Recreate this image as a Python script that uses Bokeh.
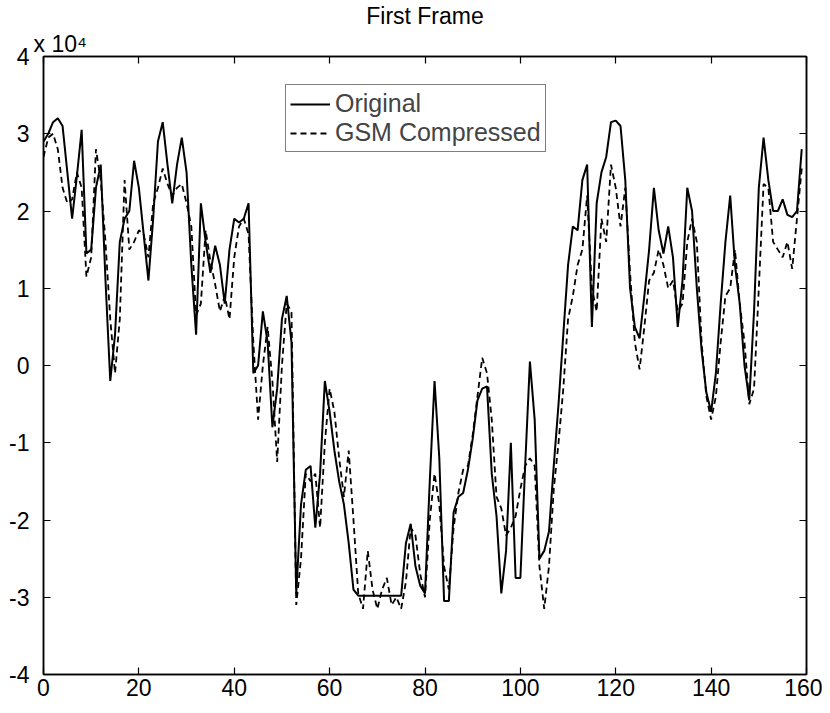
from bokeh.plotting import figure
from bokeh.models import (FixedTicker, LinearAxis, Legend, LegendItem, Range1d,
                          Title, CustomLabelingPolicy)
from bokeh.embed import file_html
from bokeh.resources import INLINE

# ---- data (values in units of 10^4) ----
sample = list(range(160))
original = [
    2.9, 3.0, 3.15, 3.2, 3.1, 2.5, 1.9, 2.45, 3.05, 1.45,
    1.5, 2.3, 2.6, 1.1, -0.2, 0.4, 1.6, 1.9, 2.0, 2.65,
    2.3, 1.7, 1.1, 1.9, 2.9, 3.15, 2.6, 2.1, 2.6, 2.95,
    2.5, 1.3, 0.4, 2.1, 1.6, 1.2, 1.55, 1.3, 0.8, 1.5,
    1.9, 1.85, 1.9, 2.1, -0.1, 0.0, 0.7, 0.3, -0.8, -0.3,
    0.6, 0.9, 0.3, -2.95, -1.8, -1.35, -1.3, -2.1, -1.4, -0.2,
    -0.6, -1.1, -1.5, -1.8, -2.3, -2.9, -2.98, -2.98, -2.98, -2.98,
    -2.98, -2.98, -2.98, -2.98, -2.98, -2.98, -2.3, -2.05, -2.6, -2.85,
    -2.95, -1.5, -0.2, -1.2, -3.05, -3.05, -1.9, -1.7, -1.65, -1.35,
    -0.95, -0.45, -0.3, -0.27, -1.4, -1.95, -2.95, -2.4, -1.0, -2.75,
    -2.75, -1.3, 0.05, -0.7, -2.5, -2.4, -2.15, -1.3, -0.5, 0.4,
    1.3, 1.8, 1.75, 2.4, 2.6, 0.5, 2.1, 2.5, 2.7, 3.15,
    3.17, 3.1, 2.4, 1.0, 0.5, 0.35, 0.9, 1.5, 2.3, 1.75,
    1.45, 1.8, 1.4, 0.5, 1.1, 2.3, 2.0, 1.0, 0.2, -0.35,
    -0.6, -0.1, 0.8, 1.6, 2.2, 1.3, 0.8, 0.0, -0.45, 0.7,
    2.3, 2.95, 2.4, 2.0, 2.0, 2.15, 1.95, 1.92, 2.0, 2.8,
]
gsm_compressed = [
    2.7, 2.95, 3.0, 2.8, 2.3, 2.1, 2.15, 2.5, 2.3, 1.15,
    1.4, 2.8, 2.4, 1.6, 0.6, -0.1, 0.6, 2.4, 1.5, 1.6,
    1.75, 1.7, 1.4, 2.1, 2.3, 2.55, 2.35, 2.2, 2.3, 2.35,
    2.1, 1.8, 0.65, 0.8, 1.75, 1.35, 1.05, 0.7, 0.9, 0.6,
    1.4, 1.8, 1.9, 1.7, 0.3, -0.7, 0.0, 0.5, -0.2, -1.25,
    0.0, 0.8, 0.7, -3.1, -2.5, -1.4, -1.5, -1.4, -2.1, -1.0,
    -0.3, -0.6, -1.2, -1.7, -1.1, -2.0, -2.95, -3.15, -2.4, -2.9,
    -3.15, -2.9, -2.75, -3.1, -3.0, -3.15, -2.8, -2.1, -2.2, -2.7,
    -3.0, -2.0, -1.4, -1.8, -2.6, -2.9, -2.1, -1.65, -1.35, -1.3,
    -0.9, -0.4, 0.1, -0.1, -0.7, -1.7, -1.85, -2.2, -2.1, -1.95,
    -1.6, -1.3, -1.2, -1.3, -2.6, -3.15, -2.6, -1.6, -1.0, -0.3,
    0.6, 0.9, 1.3, 1.5, 2.2, 1.0, 0.7, 1.9, 1.6, 2.6,
    2.3, 1.8, 2.3, 1.2, 0.3, -0.05, 0.5, 1.1, 1.2, 1.5,
    1.3, 1.0, 1.1, 0.7, 0.8, 1.6, 1.9, 1.6, 0.3, -0.4,
    -0.7, -0.4, 0.3, 0.9, 1.0, 1.5, 0.8, 0.3, -0.5, -0.3,
    1.0, 2.35, 2.3, 1.6, 1.5, 1.4, 1.6, 1.25, 1.9, 2.55,
]
x_ticks = [0, 20, 40, 60, 80, 100, 120, 140, 160]
y_ticks = [-4, -3, -2, -1, 0, 1, 2, 3, 4]
title_text = "First Frame"
legend_labels = ["Original", "GSM Compressed"]
multiplier_text = "x 10\u2074"

FONT = "Liberation Sans"
TICK_SIZE = "23px"

p = figure(
    width=822, height=705,
    output_backend="svg", toolbar_location=None, title=None,
    x_range=Range1d(0, 160), y_range=Range1d(-4, 4),
    min_border_left=43, min_border_right=16,
    min_border_top=54, min_border_bottom=31,
)
p.background_fill_color = "white"
p.border_fill_color = "white"
p.outline_line_color = "black"
p.outline_line_width = 1.5
p.xgrid.visible = False
p.ygrid.visible = False

hide_labels = CustomLabelingPolicy(code="""
try {
  const all = Array.from(indices)
  for (const i of all) indices.unset(i)
} catch (e) {}
return indices
""")

def style_axis(ax, show_labels=True):
    ax.major_tick_in = 7
    ax.major_tick_out = 0
    ax.minor_tick_in = 0
    ax.minor_tick_out = 0
    ax.axis_line_color = "black"
    ax.axis_line_width = 1.5
    ax.major_tick_line_color = "black"
    ax.major_tick_line_width = 1.2
    ax.major_label_text_font = FONT
    ax.major_label_text_color = "black"
    if show_labels:
        ax.major_label_text_font_size = TICK_SIZE
    else:
        ax.major_label_text_font_size = "0px"
        ax.major_label_standoff = 0
        ax.major_label_policy = hide_labels

p.xaxis.ticker = FixedTicker(ticks=x_ticks)
p.yaxis.ticker = FixedTicker(ticks=y_ticks)
for ax in p.xaxis:
    style_axis(ax)
    ax.major_label_standoff = 4
for ax in p.yaxis:
    style_axis(ax)
    ax.major_label_standoff = 14
    ax.major_label_overrides = {t: str(t) for t in y_ticks}

top_axis = LinearAxis(ticker=FixedTicker(ticks=x_ticks))
style_axis(top_axis, show_labels=False)
p.add_layout(top_axis, "above")
right_axis = LinearAxis(ticker=FixedTicker(ticks=y_ticks))
style_axis(right_axis, show_labels=False)
p.add_layout(right_axis, "right")

# exponent note next to the y axis, then the main title above it
p.add_layout(Title(text=multiplier_text, align="left", offset=-10,
                   text_font=FONT, text_font_size=TICK_SIZE,
                   text_font_style="normal", text_color="black",
                   standoff=0), "above")
p.add_layout(Title(text=title_text, align="center", text_font=FONT,
                   text_font_size="23px", text_font_style="normal",
                   text_color="black", standoff=0), "above")

r_orig = p.line(sample, original, line_color="black", line_width=2.0)
r_gsm = p.line(sample, gsm_compressed, line_color="black", line_width=1.8,
               line_dash="6 4")

legend = Legend(
    items=[LegendItem(label=legend_labels[0], renderers=[r_orig]),
           LegendItem(label=legend_labels[1], renderers=[r_gsm])],
    location=(242, 522),
    label_text_font=FONT, label_text_font_size="25px",
    label_height=14, glyph_height=14, glyph_width=40,
    label_standoff=5, spacing=0, padding=4, margin=0,
    border_line_color="black", border_line_width=1.2,
    background_fill_color="white", background_fill_alpha=1.0,
)
p.add_layout(legend)

open("out.html", "w").write(file_html(p, INLINE))
